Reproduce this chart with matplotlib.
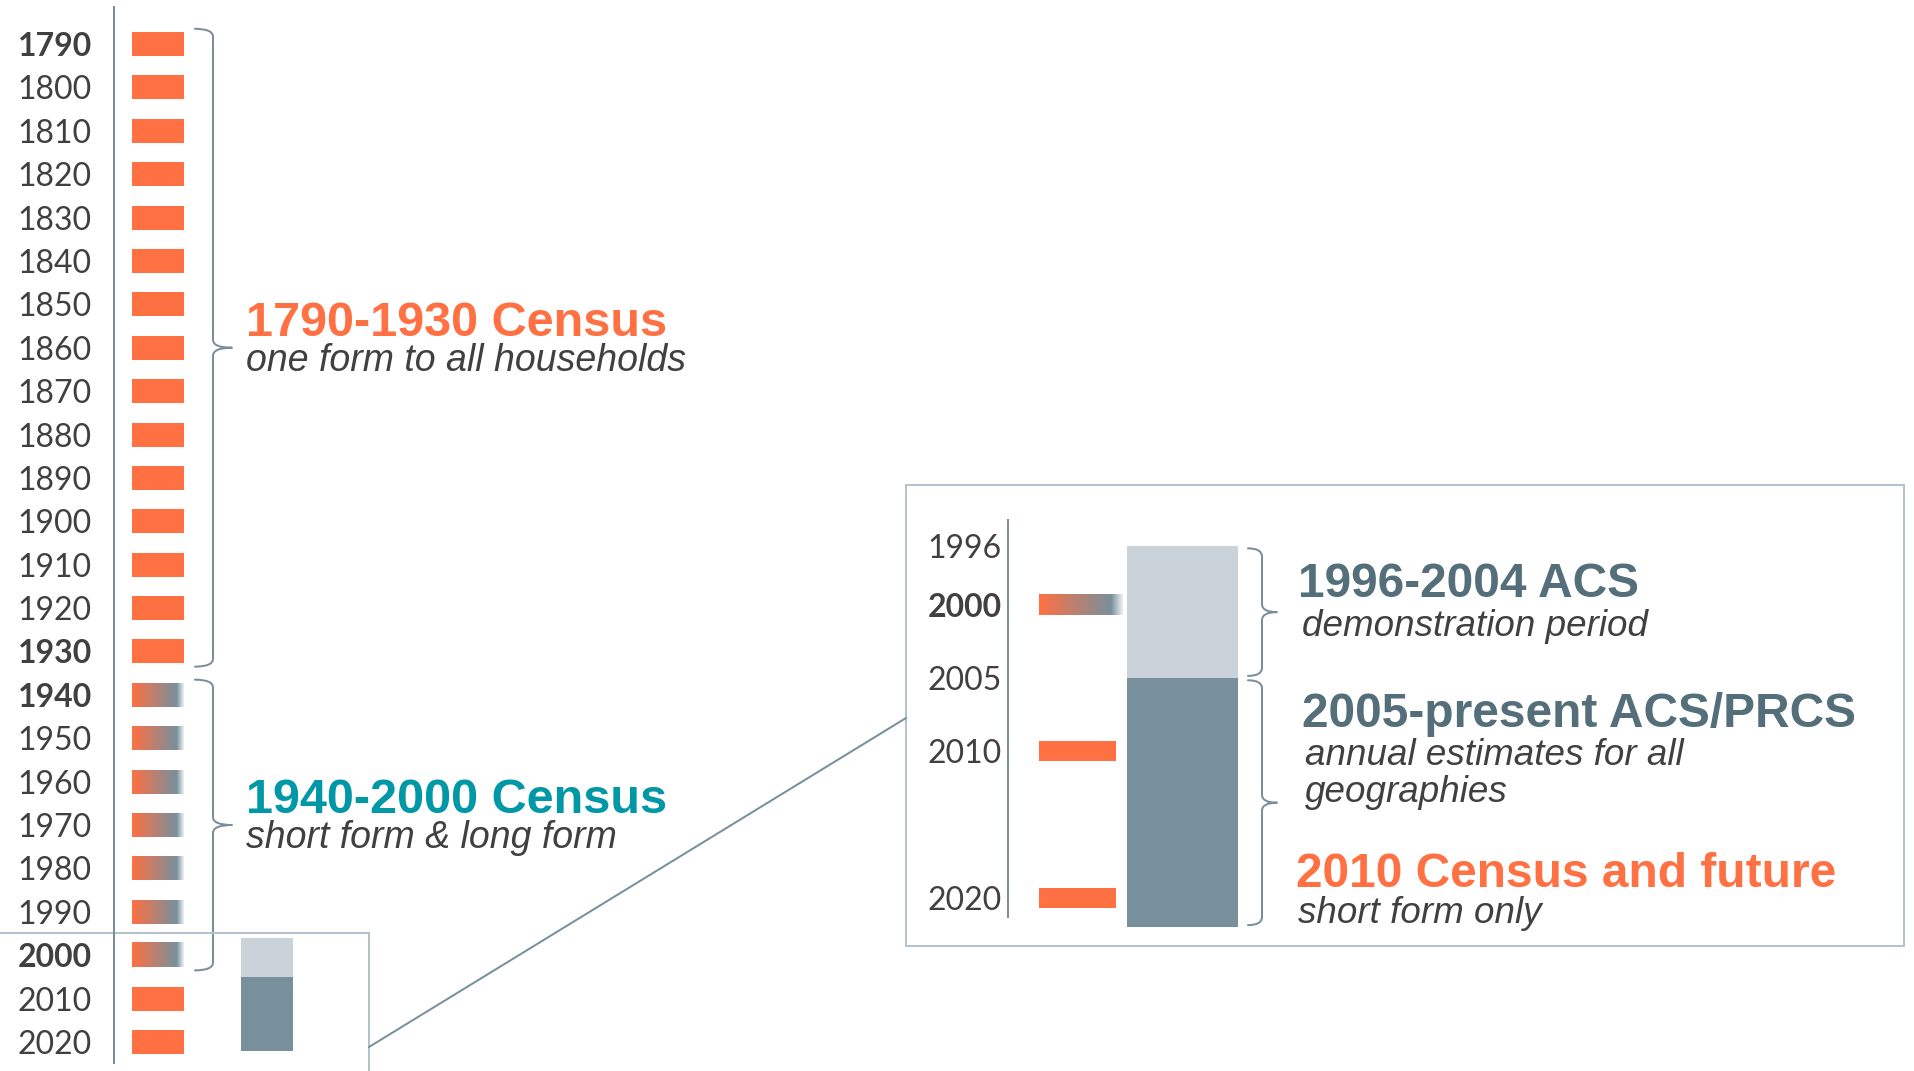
import matplotlib
matplotlib.use("Agg")
import matplotlib.pyplot as plt
from matplotlib.path import Path
from matplotlib.patches import PathPatch, Rectangle, ConnectionPatch
from matplotlib.colors import LinearSegmentedColormap
import numpy as np

# ---------------- data ----------------
census_years = list(range(1790, 2030, 10))
bold_years = [1790, 1930, 1940, 2000]
longform_years = [1940, 1950, 1960, 1970, 1980, 1990, 2000]

era_start = [1790, 1940]
era_end = [1930, 2000]
era_titles = ["1790-1930 Census", "1940-2000 Census"]
era_subtitles = ["one form to all households", "short form & long form"]

acs_start = [1996, 2005]
acs_end = [2005, 2022]
acs_titles = ["1996-2004 ACS", "2005-present ACS/PRCS"]
acs_subtitles = [["demonstration period"], ["annual estimates for all", "geographies"]]

inset_ticks = [1996, 2000, 2005, 2010, 2020]
inset_bold = [2000]
inset_census = [2000, 2010, 2020]
future_title = "2010 Census and future"
future_subtitle = "short form only"

# ---------------- style ----------------
W, H = 1914, 1071
ORANGE = "#FF7043"
TEAL = "#0097A7"
SLATE = "#546E7A"
BAR_DARK = "#78909C"
BAR_LIGHT = "#CBD3DA"
LINE = "#7B8E9A"
BOX = "#B4C2CB"
TXT = "#404040"
LABEL_FONT = ["Lato", "DejaVu Sans"]
HEAD_FONT = ["Liberation Sans", "DejaVu Sans"]
PX = 0.72  # points per pixel at dpi 100

grad_cmap = LinearSegmentedColormap.from_list(
    "grad", [(0.0, ORANGE), (0.86, BAR_DARK), (1.0, "#EEF1F3")])
grad = np.linspace(0, 1, 256).reshape(1, -1)

PPY = 4.339   # pixels per year, main timeline
def yr(px):
    return 1790 + (px - 44) / PPY

IPPY = 14.66  # pixels per year, zoomed panel
def iyr(px):
    return 2020 + (px - 898) / IPPY


def brace(a, x0, x1, xt, y0, y1, r, color=LINE, lw=2 * PX):
    ym = (y0 + y1) / 2
    verts = [(x0, y0), (x1, y0), (x1, y0 + r), (x1, ym - r), (x1, ym), (xt, ym),
             (x1, ym), (x1, ym + r), (x1, y1 - r), (x1, y1), (x0, y1)]
    codes = [Path.MOVETO, Path.CURVE3, Path.CURVE3, Path.LINETO, Path.CURVE3, Path.CURVE3,
             Path.CURVE3, Path.CURVE3, Path.LINETO, Path.CURVE3, Path.CURVE3]
    a.add_patch(PathPatch(Path(verts, codes), fill=False, ec=color, lw=lw,
                          clip_on=False, joinstyle="round", capstyle="round"))


def ftext(x, y, s, **kw):
    fig.text(x / W, 1 - y / H, s, va="baseline", ha="left", **kw)


fig = plt.figure(figsize=(W / 100, H / 100), dpi=100)

# ---------------- main timeline ----------------
ax = fig.add_axes([0, 0, 1, 1])
ax.set_facecolor("none")
for s in ["top", "right", "bottom"]:
    ax.spines[s].set_visible(False)
ax.spines["left"].set_position(("data", 114))
ax.spines["left"].set_bounds(yr(7), yr(1063))
ax.spines["left"].set_color(LINE)
ax.spines["left"].set_linewidth(2 * PX)
ax.set_xticks([])
ax.set_yticks(census_years, [str(y) for y in census_years])
ax.tick_params(axis="y", length=0, pad=22 * PX, labelsize=23, labelcolor=TXT)
for lab, y in zip(ax.get_yticklabels(), census_years):
    lab.set_fontfamily(LABEL_FONT)
    if y in bold_years:
        lab.set_fontweight("bold")

bh = 24 / PPY
plain = [y for y in census_years if y not in longform_years]
ax.barh(plain, width=52, left=132, height=bh, color=ORANGE)
for y in longform_years:
    ax.imshow(grad, cmap=grad_cmap, aspect="auto", interpolation="bilinear",
              extent=(132, 184, y + bh / 2, y - bh / 2))

colors = [ORANGE, TEAL]
for s0, s1, t, st, c in zip(era_start, era_end, era_titles, era_subtitles, colors):
    top, bot = s0 - 3.5, s1 + 3.5
    brace(ax, 195, 213, 232, top, bot, 8 / PPY)
    mid_px = 44 + ((top + bot) / 2 - 1790) * PPY
    ftext(246, mid_px - 12, t, color=c, fontsize=35, fontweight="bold", family=HEAD_FONT)
    ftext(246, mid_px + 23, st, color=TXT, fontsize=27, style="italic", family=HEAD_FONT)

# small box with miniature ACS bar
ax.add_patch(Rectangle((-5, yr(933)), 374, yr(1090) - yr(933), fill=False,
                       ec=BOX, lw=2 * PX, clip_on=False))
ax.bar(267, [e - s for s, e in zip(acs_start, acs_end)], bottom=acs_start, width=52,
       color=[BAR_LIGHT, BAR_DARK])

ax.set_xlim(0, W)
ax.set_ylim(yr(H), yr(0))

# ---------------- zoomed panel ----------------
L, T, R, B = 906, 485, 1904, 946
axi = fig.add_axes([L / W, 1 - B / H, (R - L) / W, (B - T) / H])
axi.set_facecolor("none")
for s in ["top", "right", "bottom"]:
    axi.spines[s].set_visible(False)
axi.add_patch(Rectangle((0, 0), 1, 1, transform=axi.transAxes, fill=False,
                        ec=BOX, lw=2 * PX, clip_on=False))
axi.spines["left"].set_position(("data", 1008))
axi.spines["left"].set_bounds(iyr(520), iyr(917))
axi.spines["left"].set_color(LINE)
axi.spines["left"].set_linewidth(2 * PX)
axi.set_xticks([])
axi.set_yticks(inset_ticks, [str(y) for y in inset_ticks])
axi.tick_params(axis="y", length=0, pad=6 * PX, labelsize=23, labelcolor=TXT)
for lab, y in zip(axi.get_yticklabels(), inset_ticks):
    lab.set_fontfamily(LABEL_FONT)
    if y in inset_bold:
        lab.set_fontweight("bold")

ibh = 20 / IPPY
for y in inset_census:
    if y in longform_years:
        axi.imshow(grad, cmap=grad_cmap, aspect="auto", interpolation="bilinear",
                   extent=(1039, 1123, y + ibh / 2, y - ibh / 2))
    else:
        axi.barh(y, width=77, left=1039, height=ibh, color=ORANGE)

axi.bar((1127 + 1238) / 2, [e - s for s, e in zip(acs_start, acs_end)], bottom=acs_start,
        width=111, color=[BAR_LIGHT, BAR_DARK])
for s0, s1 in zip(acs_start, acs_end):
    brace(axi, 1248, 1262, 1277, s0 + 0.15, s1 - 0.15, 8 / IPPY)

axi.set_xlim(L, R)
axi.set_ylim(iyr(B), iyr(T))

# panel texts
ftext(1298, 597, acs_titles[0], color=SLATE, fontsize=34.5, fontweight="bold", family=HEAD_FONT)
ftext(1302, 636, acs_subtitles[0][0], color=TXT, fontsize=26.5, style="italic", family=HEAD_FONT)
ftext(1302, 727, acs_titles[1], color=SLATE, fontsize=34.5, fontweight="bold", family=HEAD_FONT)
ftext(1305, 765, acs_subtitles[1][0], color=TXT, fontsize=26.5, style="italic", family=HEAD_FONT)
ftext(1305, 802, acs_subtitles[1][1], color=TXT, fontsize=26.5, style="italic", family=HEAD_FONT)
ftext(1296, 887, future_title, color=ORANGE, fontsize=34.5, fontweight="bold", family=HEAD_FONT)
ftext(1298, 923, future_subtitle, color=TXT, fontsize=26.5, style="italic", family=HEAD_FONT)

# connector from small box to zoomed panel
con = ConnectionPatch(xyA=(369, yr(1047)), coordsA=ax.transData,
                      xyB=(L, iyr(718)), coordsB=axi.transData,
                      color=BAR_DARK, lw=2 * PX)
fig.add_artist(con)

fig.savefig("out.png", dpi=100, facecolor="white")
